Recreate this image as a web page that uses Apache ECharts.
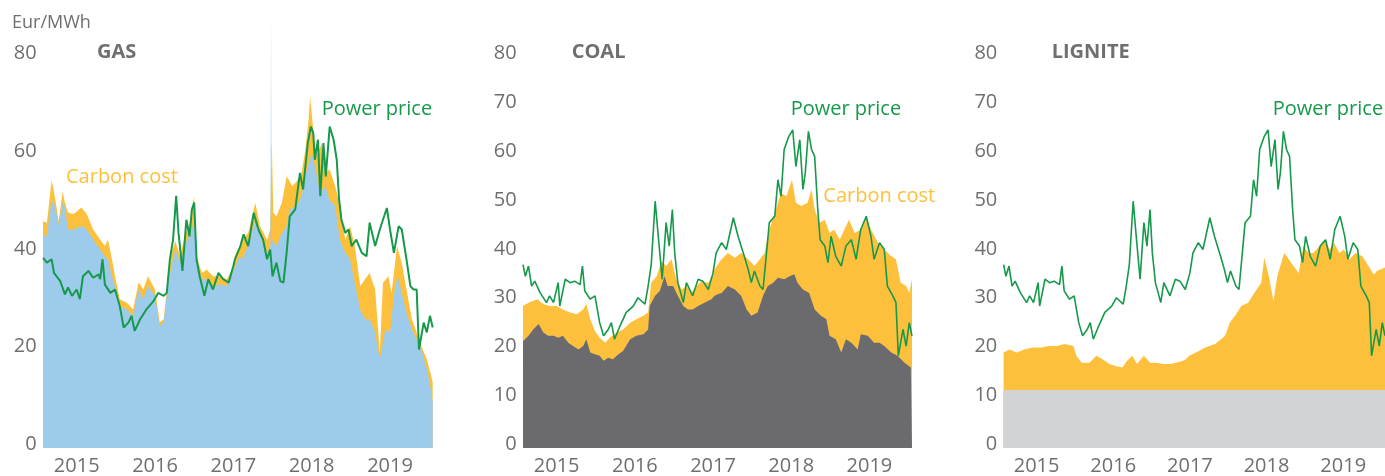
<!DOCTYPE html>
<html>
<head>
<meta charset="utf-8">
<script src="https://cdn.jsdelivr.net/npm/echarts@6/dist/echarts.min.js"></script>
<style>
  html, body { margin: 0; padding: 0; background: #fff; }
  #main { width: 1385px; height: 476px; }
</style>
</head>
<body>
<div id="main"></div>
<script>
// time in decimal years, values in Eur/MWh
var yearLabels = [2015.5, 2016.5, 2017.5, 2018.5, 2019.5];
var gasTicks = [0, 20, 40, 60, 80];
var tenTicks = [0, 10, 20, 30, 40, 50, 60, 70, 80];

// gas: fuel + carbon (top of the carbon band), fuel, power price
var gasTotal = [[2015.07,46.5],[2015.12,46.2],[2015.18,55.0],[2015.22,51.6],[2015.27,46.5],[2015.32,52.6],[2015.35,50.3],[2015.39,48.3],[2015.46,47.9],[2015.56,49.3],[2015.63,47.9],[2015.71,44.8],[2015.80,42.7],[2015.86,41.4],[2015.90,42.7],[2015.95,38.7],[2015.99,35.2],[2016.05,30.5],[2016.14,29.8],[2016.22,28.4],[2016.29,34.0],[2016.35,32.5],[2016.41,35.2],[2016.50,32.5],[2016.56,25.8],[2016.61,26.4],[2016.67,35.2],[2016.71,40.0],[2016.76,42.4],[2016.82,39.3],[2016.88,43.4],[2016.95,46.5],[2017.00,51.6],[2017.03,39.3],[2017.10,35.9],[2017.16,36.6],[2017.24,35.2],[2017.33,35.2],[2017.42,34.6],[2017.50,37.3],[2017.52,39.3],[2017.58,41.4],[2017.61,42.7],[2017.69,44.1],[2017.78,50.3],[2017.84,45.5],[2017.93,42.7],[2017.97,44.8],[2017.99,63.2],[2018.01,48.2],[2018.05,47.5],[2018.12,50.3],[2018.18,55.7],[2018.25,53.7],[2018.31,54.7],[2018.37,56.4],[2018.42,61.2],[2018.46,67.3],[2018.48,72.1],[2018.52,65.2],[2018.56,59.8],[2018.63,62.5],[2018.67,56.4],[2018.73,57.1],[2018.80,53.7],[2018.86,49.6],[2018.93,42.7],[2018.99,45.5],[2019.05,41.4],[2019.12,33.2],[2019.18,34.6],[2019.24,35.9],[2019.31,32.5],[2019.37,19.6],[2019.41,33.9],[2019.48,35.2],[2019.52,31.8],[2019.59,41.4],[2019.65,38.0],[2019.71,32.5],[2019.78,26.4],[2019.84,23.7],[2019.90,20.9],[2019.97,18.2],[2020.03,14.5],[2020.045,13.5]];
var gasFuel = [[2015.07,43.8],[2015.12,43.4],[2015.18,50.9],[2015.22,49.6],[2015.27,45.8],[2015.32,50.3],[2015.35,49.3],[2015.39,44.8],[2015.46,44.8],[2015.56,45.5],[2015.63,44.8],[2015.71,42.7],[2015.80,40.7],[2015.86,39.3],[2015.90,38.7],[2015.95,35.2],[2015.99,33.2],[2016.05,29.1],[2016.14,28.4],[2016.22,27.1],[2016.29,32.5],[2016.35,30.5],[2016.41,33.2],[2016.50,31.2],[2016.56,25.0],[2016.61,25.8],[2016.67,34.0],[2016.71,37.3],[2016.76,40.7],[2016.82,38.0],[2016.88,41.4],[2016.95,44.1],[2017.00,46.2],[2017.03,38.0],[2017.10,34.6],[2017.16,34.6],[2017.24,33.2],[2017.33,33.5],[2017.42,33.2],[2017.50,36.3],[2017.52,36.6],[2017.58,39.3],[2017.61,38.7],[2017.69,41.4],[2017.78,46.8],[2017.86,42.7],[2017.93,40.0],[2017.974,41.4],[2017.981,89.1],[2017.988,42.7],[2018.05,41.4],[2018.12,44.1],[2018.18,45.5],[2018.22,48.9],[2018.31,49.6],[2018.37,51.6],[2018.44,57.1],[2018.50,60.5],[2018.54,57.7],[2018.61,52.3],[2018.67,53.7],[2018.73,50.9],[2018.80,49.6],[2018.86,42.7],[2018.93,40.0],[2018.99,38.7],[2019.05,33.9],[2019.12,28.4],[2019.18,26.4],[2019.24,26.4],[2019.31,23.7],[2019.37,18.2],[2019.44,24.3],[2019.50,23.7],[2019.56,32.5],[2019.60,35.2],[2019.65,31.8],[2019.71,27.8],[2019.78,24.3],[2019.84,22.3],[2019.90,20.2],[2019.97,16.2],[2020.03,11.4],[2020.045,9.3]];
var gasPower = [[2015.07,39.0],[2015.12,38.0],[2015.18,38.7],[2015.21,35.9],[2015.22,35.6],[2015.29,34.2],[2015.35,31.5],[2015.39,32.9],[2015.44,31.2],[2015.50,32.5],[2015.54,30.5],[2015.58,35.2],[2015.65,36.3],[2015.71,34.9],[2015.78,35.6],[2015.80,34.6],[2015.83,38.7],[2015.86,33.5],[2015.93,31.8],[2015.99,32.5],[2016.05,29.1],[2016.10,24.7],[2016.16,25.7],[2016.20,27.1],[2016.24,24.0],[2016.31,26.4],[2016.39,28.4],[2016.48,30.1],[2016.54,31.8],[2016.61,31.2],[2016.65,31.8],[2016.69,38.7],[2016.73,42.7],[2016.77,51.7],[2016.80,44.1],[2016.85,36.3],[2016.90,46.8],[2016.94,43.4],[2016.97,48.9],[2017.00,50.3],[2017.03,38.7],[2017.07,35.2],[2017.13,31.2],[2017.18,34.6],[2017.24,32.5],[2017.31,35.9],[2017.37,34.6],[2017.44,33.9],[2017.50,37.3],[2017.52,38.7],[2017.59,41.4],[2017.63,43.8],[2017.69,41.4],[2017.76,48.2],[2017.82,44.8],[2017.88,42.7],[2017.93,38.7],[2017.97,40.7],[2018.00,35.2],[2018.05,38.0],[2018.10,34.2],[2018.14,33.9],[2018.18,40.0],[2018.22,47.5],[2018.29,48.9],[2018.35,56.4],[2018.39,53.0],[2018.45,62.5],[2018.49,65.9],[2018.52,64.6],[2018.54,59.1],[2018.58,63.2],[2018.61,51.6],[2018.65,62.5],[2018.68,55.7],[2018.73,65.9],[2018.78,63.2],[2018.82,59.1],[2018.85,50.9],[2018.88,46.8],[2018.93,44.1],[2018.97,44.8],[2019.01,41.4],[2019.07,42.7],[2019.14,40.0],[2019.20,39.3],[2019.24,46.2],[2019.31,41.4],[2019.37,44.8],[2019.41,46.8],[2019.46,49.2],[2019.50,44.8],[2019.55,40.0],[2019.61,45.5],[2019.65,44.8],[2019.71,38.7],[2019.76,33.2],[2019.80,32.5],[2019.84,32.5],[2019.87,20.2],[2019.93,25.7],[2019.97,23.7],[2020.01,27.1],[2020.045,24.7]];

// coal
var coalTotal = [[2015.07,29.1],[2015.14,29.8],[2015.25,30.5],[2015.33,29.5],[2015.41,29.1],[2015.50,29.1],[2015.58,28.4],[2015.67,27.8],[2015.76,27.4],[2015.84,28.4],[2015.88,29.5],[2015.93,26.4],[2015.99,24.0],[2016.05,22.6],[2016.12,21.6],[2016.18,22.6],[2016.27,23.7],[2016.35,24.3],[2016.44,25.7],[2016.52,26.4],[2016.61,27.1],[2016.67,27.8],[2016.71,33.9],[2016.78,35.2],[2016.84,38.3],[2016.90,37.3],[2016.97,38.7],[2017.03,34.6],[2017.10,32.5],[2017.16,33.2],[2017.22,31.8],[2017.29,33.2],[2017.35,34.2],[2017.44,33.9],[2017.50,35.6],[2017.52,36.6],[2017.56,37.6],[2017.61,38.7],[2017.69,40.0],[2017.78,39.0],[2017.86,40.0],[2017.95,38.7],[2018.03,37.3],[2018.10,38.7],[2018.16,40.0],[2018.22,44.8],[2018.29,48.2],[2018.37,52.3],[2018.44,51.6],[2018.51,55.0],[2018.56,50.3],[2018.63,49.6],[2018.71,50.3],[2018.76,53.0],[2018.80,48.9],[2018.86,46.2],[2018.93,46.8],[2018.99,44.1],[2019.05,44.8],[2019.12,42.7],[2019.18,44.8],[2019.24,46.8],[2019.31,44.1],[2019.39,44.8],[2019.46,47.5],[2019.52,44.8],[2019.61,42.1],[2019.69,40.7],[2019.78,39.3],[2019.84,38.7],[2019.90,33.9],[2019.97,33.2],[2020.01,31.8],[2020.045,34.6]];
var coalFuel = [[2015.07,21.9],[2015.14,23.0],[2015.20,24.3],[2015.27,25.4],[2015.33,23.7],[2015.39,23.0],[2015.46,23.0],[2015.52,22.6],[2015.58,23.0],[2015.65,21.6],[2015.71,20.9],[2015.78,20.2],[2015.84,20.9],[2015.88,22.3],[2015.93,19.6],[2015.99,19.2],[2016.05,18.9],[2016.10,17.9],[2016.16,18.5],[2016.22,18.2],[2016.29,19.2],[2016.35,19.9],[2016.44,22.3],[2016.52,23.0],[2016.61,23.3],[2016.67,24.3],[2016.69,29.1],[2016.76,31.2],[2016.82,32.2],[2016.88,35.2],[2016.92,33.2],[2016.99,33.2],[2017.05,31.2],[2017.12,29.1],[2017.18,28.4],[2017.24,28.4],[2017.31,29.1],[2017.39,29.8],[2017.48,30.5],[2017.52,31.2],[2017.56,31.5],[2017.61,31.8],[2017.69,33.2],[2017.78,32.5],[2017.86,31.2],[2017.93,28.4],[2017.99,27.1],[2018.07,27.8],[2018.14,31.2],[2018.20,33.2],[2018.27,33.9],[2018.33,34.9],[2018.41,34.6],[2018.48,35.2],[2018.54,35.6],[2018.58,33.9],[2018.65,32.5],[2018.73,31.8],[2018.80,28.4],[2018.88,27.1],[2018.95,26.4],[2018.99,23.0],[2019.07,22.3],[2019.14,19.6],[2019.20,22.3],[2019.27,21.6],[2019.35,20.2],[2019.39,23.3],[2019.48,23.0],[2019.56,21.6],[2019.63,21.6],[2019.69,20.9],[2019.78,19.6],[2019.86,18.9],[2019.95,17.5],[2020.03,16.5],[2020.045,16.3]];
// power price (same line in the coal and lignite panels)
var power = [[2015.07,37.6],[2015.10,35.2],[2015.14,37.3],[2015.18,33.2],[2015.22,34.2],[2015.29,31.8],[2015.37,29.8],[2015.41,31.2],[2015.46,29.8],[2015.52,33.9],[2015.54,29.1],[2015.61,34.6],[2015.67,33.9],[2015.73,34.2],[2015.80,33.5],[2015.83,37.3],[2015.86,32.2],[2015.93,30.5],[2015.99,31.2],[2016.05,25.7],[2016.10,23.0],[2016.16,24.3],[2016.20,25.7],[2016.24,22.3],[2016.31,25.0],[2016.39,27.8],[2016.48,29.1],[2016.54,30.8],[2016.63,29.5],[2016.67,33.2],[2016.71,37.6],[2016.76,50.6],[2016.80,43.4],[2016.85,34.6],[2016.90,46.2],[2016.94,41.4],[2016.98,48.9],[2017.01,40.0],[2017.05,33.9],[2017.12,29.8],[2017.16,33.9],[2017.24,31.2],[2017.31,34.6],[2017.37,34.2],[2017.44,32.5],[2017.50,35.9],[2017.54,40.0],[2017.61,42.1],[2017.67,40.7],[2017.76,47.2],[2017.82,43.4],[2017.90,39.3],[2017.95,36.6],[2017.99,33.9],[2018.03,36.3],[2018.10,33.2],[2018.14,32.5],[2018.18,39.3],[2018.22,46.2],[2018.29,47.5],[2018.33,55.0],[2018.37,51.6],[2018.41,61.2],[2018.47,63.9],[2018.52,65.2],[2018.56,57.7],[2018.61,63.2],[2018.65,53.0],[2018.68,56.4],[2018.72,64.9],[2018.76,61.2],[2018.80,59.8],[2018.84,48.9],[2018.87,42.7],[2018.93,41.4],[2018.97,38.0],[2019.01,43.4],[2019.07,39.3],[2019.14,37.3],[2019.20,41.4],[2019.27,42.7],[2019.33,38.7],[2019.39,44.8],[2019.46,47.5],[2019.52,43.4],[2019.56,38.7],[2019.63,42.1],[2019.69,40.7],[2019.73,33.2],[2019.80,31.2],[2019.84,29.8],[2019.87,18.9],[2019.93,24.3],[2019.97,20.9],[2020.01,25.7],[2020.045,23.0]];

// lignite
var ligniteTotal = [[2015.07,19.6],[2015.15,20.2],[2015.24,19.6],[2015.34,20.2],[2015.45,20.6],[2015.56,20.6],[2015.66,20.9],[2015.77,20.9],[2015.87,21.3],[2015.98,20.9],[2016.02,18.9],[2016.09,17.5],[2016.19,17.5],[2016.28,18.9],[2016.36,18.2],[2016.45,17.2],[2016.53,16.8],[2016.62,16.5],[2016.68,17.9],[2016.75,18.9],[2016.81,17.2],[2016.90,18.9],[2016.98,17.5],[2017.07,17.5],[2017.15,17.2],[2017.24,17.2],[2017.32,17.5],[2017.41,17.9],[2017.45,18.2],[2017.49,18.9],[2017.58,19.6],[2017.70,20.6],[2017.83,21.3],[2017.96,23.0],[2018.02,25.7],[2018.09,27.1],[2018.17,29.1],[2018.26,29.8],[2018.34,31.8],[2018.43,33.9],[2018.47,39.0],[2018.53,35.2],[2018.59,30.1],[2018.64,35.2],[2018.73,40.0],[2018.79,38.7],[2018.85,37.3],[2018.92,35.9],[2018.98,41.4],[2019.05,40.0],[2019.11,40.0],[2019.19,41.4],[2019.26,42.7],[2019.32,40.7],[2019.38,42.1],[2019.45,40.0],[2019.51,40.7],[2019.58,38.7],[2019.66,40.0],[2019.75,39.3],[2019.83,37.3],[2019.90,35.5],[2019.94,36.3],[2020.045,37.0]];
var ligniteFuel = [[2015.066,11.9],[2020.045,11.9]];

var xMin = 2015.066, xMax = 2020.045;
var font = '"Open Sans", "Noto Sans", sans-serif';
var gray = '#6f6f72';
var orange = '#fdc03d';
var green = '#17994b';

var myChart = echarts.init(document.getElementById('main'));

function grid(left, width) {
    return { left: left, top: 9, width: width, height: 440 };
}
function xAxis(i) {
    return {
        type: 'value', gridIndex: i, min: xMin, max: xMax,
        axisLine: { show: false }, axisTick: { show: false }, splitLine: { show: false },
        axisLabel: {
            customValues: yearLabels,
            formatter: function (v) { return String(Math.floor(v)); },
            color: gray, fontSize: 20, fontFamily: font, margin: 8
        }
    };
}
function yAxis(i, ticks) {
    return {
        type: 'value', gridIndex: i, min: 0, max: 90,
        axisLine: { show: false }, axisTick: { show: false }, splitLine: { show: false },
        axisLabel: {
            customValues: ticks, color: gray, fontSize: 20, fontFamily: font,
            margin: 6, verticalAlign: 'bottom', lineHeight: 8
        }
    };
}
function area(i, data, color) {
    return {
        type: 'line', xAxisIndex: i, yAxisIndex: i, data: data,
        showSymbol: false, silent: true,
        lineStyle: { width: 0 },
        areaStyle: { color: color, opacity: 1 }
    };
}
function line(i, data, width) {
    return {
        type: 'line', xAxisIndex: i, yAxisIndex: i, data: data,
        showSymbol: false, silent: true,
        lineStyle: { color: green, width: width }
    };
}
function label(x, y, text, color, bold, size) {
    return {
        type: 'text', x: x, y: y, silent: true,
        style: {
            text: text, fill: color, verticalAlign: 'middle', align: 'left',
            font: (bold ? 'bold ' : '') + (size || 20) + 'px ' + font
        }
    };
}

var option = {
    animation: false,
    backgroundColor: '#fff',
    grid: [grid(42.7, 390), grid(522.7, 389.3), grid(1003.3, 390)],
    xAxis: [xAxis(0), xAxis(1), xAxis(2)],
    yAxis: [yAxis(0, gasTicks), yAxis(1, tenTicks), yAxis(2, tenTicks)],
    series: [
        area(0, gasTotal, orange),
        area(0, gasFuel, '#9ccbeb'),
        line(0, gasPower, 2),
        area(1, coalTotal, orange),
        area(1, coalFuel, '#6b6b6f'),
        line(1, power, 1.6),
        area(2, ligniteTotal, orange),
        area(2, ligniteFuel, '#d2d3d5'),
        line(2, power, 1.6)
    ],
    graphic: [
        label(12, 22.7, 'Eur/MWh', gray, false, 18),
        label(97, 51.8, 'GAS', gray, true),
        label(66, 177.5, 'Carbon cost', orange),
        label(321.7, 109.2, 'Power price', green),
        label(193.3, 415, 'Fuel cost', '#333333'),
        label(571.7, 51.8, 'COAL', gray, true),
        label(790.7, 109.2, 'Power price', green),
        label(823.3, 196.2, 'Carbon cost', orange),
        label(676, 413.5, 'Fuel cost', '#ffffff'),
        label(1051.7, 51.8, 'LIGNITE', gray, true),
        label(1272.7, 109.2, 'Power price', green),
        label(1229, 366.3, 'Carbon cost', '#ffffff'),
        label(1166.7, 413.4, 'Fuel cost', '#333333')
    ]
};
myChart.setOption(option);
</script>
</body>
</html>
